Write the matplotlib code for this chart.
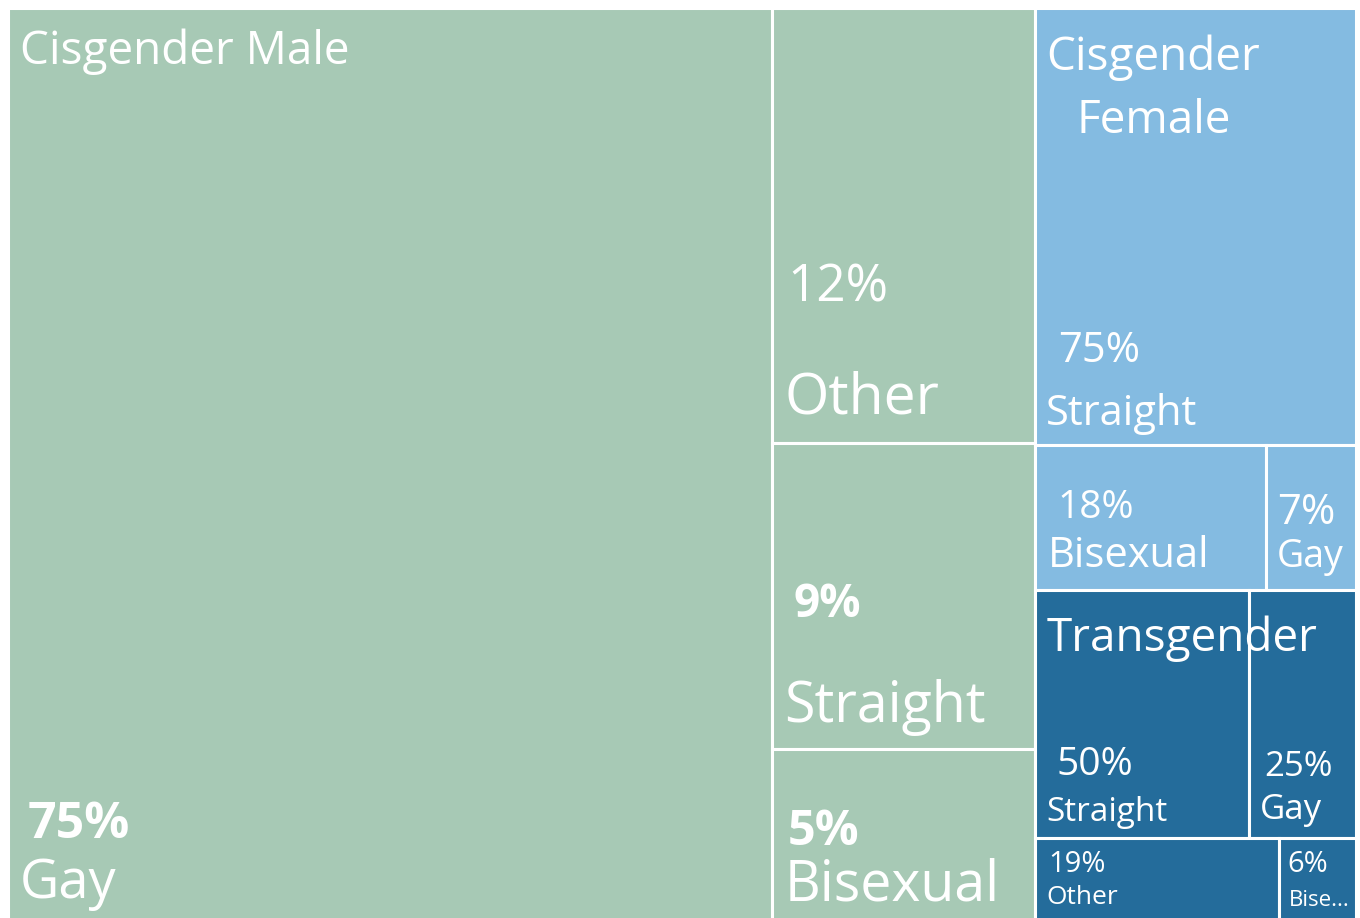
import matplotlib
matplotlib.use("Agg")
import matplotlib.pyplot as plt
from matplotlib.patches import Rectangle

# ---------------- data ----------------
groups = ["Cisgender Male", "Cisgender Female", "Transgender"]
group_share = [76.2, 15.2, 8.6]          # share of respondents (area of each group)
group_colors = ["#A7C9B5", "#84BBE1", "#246C9B"]

male_cats = ["Gay", "Other", "Straight", "Bisexual"]
male_pct = [75, 12, 9, 5]                 # labels
male_size = [74.4, 12.2, 8.6, 4.8]        # unrounded shares (tile areas)
female_cats = ["Straight", "Bisexual", "Gay"]
female_pct = [75, 18, 7]
female_size = [75, 18, 7]
trans_cats = ["Straight", "Gay", "Other", "Bisexual"]
trans_pct = [50, 25, 19, 6]
trans_size = [50, 25, 19, 6]

# ---------------- squarified layout ----------------
def worst(row, length):
    t = sum(row) / length
    ratios = []
    for v in row:
        e = v / t
        ratios.append(max(t / e, e / t))
    return sum(ratios) / len(ratios)

def squarify(vals, x, y, w, h):
    tot = float(sum(vals))
    vals = [v * w * h / tot for v in vals]
    rects = []
    i = 0
    while i < len(vals):
        short = min(w, h)
        row = [vals[i]]
        j = i + 1
        while j < len(vals) and worst(row + [vals[j]], short) <= worst(row, short):
            row.append(vals[j])
            j += 1
        s = sum(row)
        if w >= h:
            t = s / h
            yy = y
            for v in row:
                hh = v / t
                rects.append((x, yy, t, hh))
                yy += hh
            x += t
            w -= t
        else:
            t = s / w
            xx = x
            for v in row:
                ww = v / t
                rects.append((xx, y, ww, t))
                xx += ww
            y += t
            h -= t
        i = j
    return rects

X0, Y0, X1, Y1 = 8, 8, 1356, 920
group_rects = squarify(group_share, X0, Y0, X1 - X0, Y1 - Y0)

fig = plt.figure(figsize=(13.6, 9.18), dpi=100)
ax = fig.add_axes([0, 0, 1, 1])
ax.set_xlim(0, 1360)
ax.set_ylim(918, 0)
ax.axis("off")

FONT = "Open Sans"

def draw_rect(r, color):
    ax.add_patch(Rectangle((r[0], r[1]), r[2], r[3], facecolor=color,
                           edgecolor="white", linewidth=2.2))

def label(r, dx, dy, s, size, bold=False):
    ax.text(r[0] + dx, r[1] + dy, s, fontsize=size, color="white",
            fontweight="bold" if bold else "normal", family=FONT,
            va="baseline", ha="left")

# label styles: (pct offset dx, dy, size, bold), (name dx, dy, size)
male_style = [
    ((20, 830, 36, True), (12, 890, 39)),
    ((15, 294, 37, False), (12, 405, 41)),
    ((21, 174, 33, True), (12, 279, 40)),
    ((15, 96, 35, True), (12, 151, 40)),
]
female_style = [
    ((23, 354, 30, False), (11, 417, 30)),
    ((22, 73, 28, False), (13, 122, 30)),
    ((11, 79, 30, False), (11, 122, 27)),
]
trans_style = [
    ((21, 185, 28, False), (11, 231, 24)),
    ((15, 186, 25, False), (11, 229, 25)),
    ((13, 34, 21, False), (11, 66, 19)),
    ((8, 34, 21, False), (10, 68, 16)),
]

subsets = [(male_cats, male_pct, male_size, male_style),
           (female_cats, female_pct, female_size, female_style),
           (trans_cats, trans_pct, trans_size, trans_style)]

leaf_rects_all = []
for gi, (cats, pcts, sizes, style) in enumerate(subsets):
    g = group_rects[gi]
    rects = squarify(sizes, *g)
    leaf_rects_all.append(rects)
    for r in rects:
        draw_rect(r, group_colors[gi])

for gi, (cats, pcts, sizes, style) in enumerate(subsets):
    rects = leaf_rects_all[gi]
    for r, c, p, st in zip(rects, cats, pcts, style):
        (pdx, pdy, psz, pb), (ndx, ndy, nsz) = st
        label(r, pdx, pdy, f"{p}%", psz, pb)
        name = c
        if r[2] < 90 and len(c) > 5:
            name = c[:4] + "..."
        label(r, ndx, ndy, name, nsz)

# group headers
g = group_rects
label(g[0], 12, 56, groups[0], 33)
label(g[1], 11, 62, "Cisgender", 33)
label(g[1], 41, 125, "Female", 33)
label(g[2], 11, 61, groups[2], 33)

fig.savefig("out.png", dpi=100, facecolor="white")
